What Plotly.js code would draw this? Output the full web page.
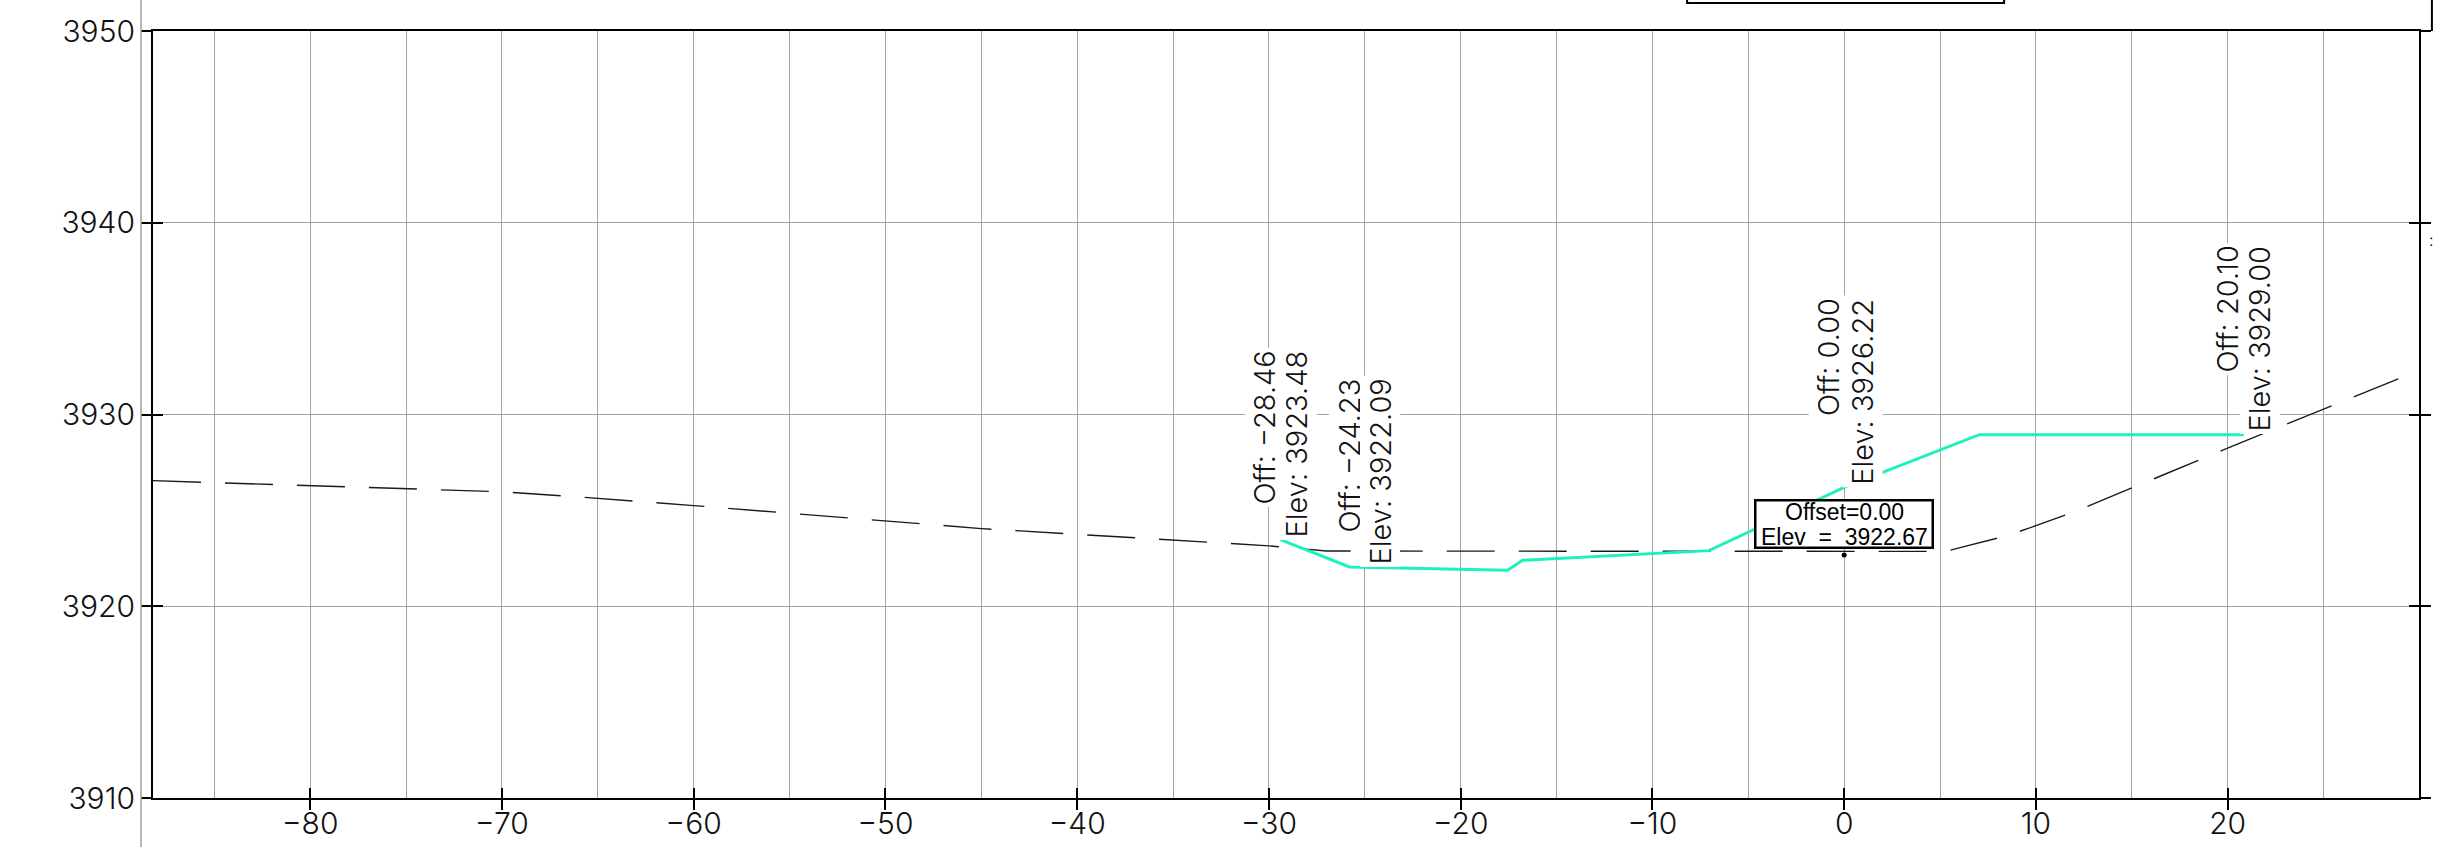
<!DOCTYPE html>
<html>
<head>
<meta charset="utf-8">
<script src="https://cdn.plot.ly/plotly-3.0.1.min.js"></script>
<style>html,body{margin:0;padding:0;background:#fff;}#chart{width:2438px;height:847px;}</style>
</head>
<body>
<div id="chart"></div>
<script>
// Existing ground (dashed)
const groundX = [-88.2, -75, -70, -66, -60, -45, -35, -30, -27, 5.3, 6.2, 8.5, 10, 12, 20, 29.98];
const groundY = [3926.55, 3926.12, 3925.97, 3925.7, 3925.25, 3924.05, 3923.43, 3923.15, 3922.88, 3922.86, 3923.1, 3923.68, 3924.2, 3924.92, 3928.25, 3932.3];

// Design section (cyan)
const designX = [-29.4, -25.8, -17.55, -16.77, -7.05, 0, 7.05, 20.85];
const designY = [3923.48, 3922.05, 3921.88, 3922.4, 3922.9, 3926.2, 3928.95, 3928.95];

// Point labels
const labelIndex = [0, 1, 5, 7];
const labelOff = ['Off: \u221228.46', 'Off: \u221224.23', 'Off: 0.00', 'Off: 20.10'];
const labelElev = ['Elev: 3923.48', 'Elev: 3922.09', 'Elev: 3926.22', 'Elev: 3929.00'];

// Centerline marker
const markerX = [0];
const markerY = [3922.67];
const markerLines = ['Offset=0.00', 'Elev  =  3922.67'];

// Axes
const xRange = [-88.2, 29.98];
const yRange = [3910, 3950];
const xTickVals = [-80, -70, -60, -50, -40, -30, -20, -10, 0, 10, 20];
const xTickText = ['\u221280', '\u221270', '\u221260', '\u221250', '\u221240', '\u221230', '\u221220', '\u221210', '0', '10', '20'];
const xMinorVals = [-85, -75, -65, -55, -45, -35, -25, -15, -5, 5, 15, 25];
const yTickVals = [3910, 3920, 3930, 3940, 3950];
const yTickText = ['3910', '3920', '3930', '3940', '3950'];

const FONT = 'Inter, "DejaVu Sans", sans-serif';
const BOXFONT = '"Liberation Sans", Arial, sans-serif';
const GRID = '#a4a4a4';

const traces = [
  {x: groundX, y: groundY, type: 'scatter', mode: 'lines',
   line: {color: '#1a1a1a', width: 1.4, dash: '48px,24px'}, hoverinfo: 'skip'},
  {x: designX, y: designY, type: 'scatter', mode: 'lines',
   line: {color: '#1ef0be', width: 3}, hoverinfo: 'skip'},
  {x: markerX, y: markerY, type: 'scatter', mode: 'markers',
   marker: {color: '#000', size: 5}, hoverinfo: 'skip'},
  {x: [null], y: [null], xaxis: 'x2', yaxis: 'y', type: 'scatter', mode: 'lines', hoverinfo: 'skip'},
  {x: [null], y: [null], xaxis: 'x', yaxis: 'y2', type: 'scatter', mode: 'lines', hoverinfo: 'skip'}
];

const offShift = [-15.5, 0, -15.6, -16.5];
const elevShift = [16, 31, 18.3, 16];
const annotations = [];
labelIndex.forEach((idx, k) => {
  [[labelOff[k], offShift[k]], [labelElev[k], elevShift[k]]].forEach(([t, dx]) => {
    annotations.push({
      x: designX[idx], y: designY[idx], xref: 'x', yref: 'y',
      text: t, showarrow: false, textangle: -90,
      xanchor: 'center', yanchor: 'top', xshift: dx, yshift: 192,
      bgcolor: '#ffffff', borderpad: 2,
      font: {family: FONT, size: 29, color: '#111', weight: 300}
    });
  });
});
// boxed centerline label: frame, then two lines of text
annotations.push({
  x: markerX[0], y: markerY[0], xref: 'x', yref: 'y',
  text: '&nbsp;', showarrow: false,
  xanchor: 'center', yanchor: 'bottom', yshift: 6,
  width: 175, height: 45,
  bgcolor: '#ffffff', bordercolor: '#000', borderwidth: 2.5, borderpad: 0,
  font: {family: BOXFONT, size: 10, color: '#000'}
});
[[markerLines[0], 43], [markerLines[1], 18]].forEach(([t, dy]) => {
  annotations.push({
    x: markerX[0], y: markerY[0], xref: 'x', yref: 'y',
    text: t, showarrow: false,
    xanchor: 'center', yanchor: 'middle', yshift: dy, xshift: 0,
    font: {family: BOXFONT, size: 23, color: '#000'}
  });
});
annotations.push({
  x: 1.0057, y: 3939.1, xref: 'paper', yref: 'y', text: ':', showarrow: false,
  xanchor: 'center', yanchor: 'middle', font: {family: FONT, size: 16, color: '#000'}
});

const layout = {
  width: 2438, height: 847,
  margin: {l: 153, r: 19, t: 31, b: 49, pad: 0},
  paper_bgcolor: '#ffffff', plot_bgcolor: '#ffffff',
  showlegend: false,
  font: {family: FONT, color: '#111', weight: 300},
  xaxis: {
    range: xRange, tickmode: 'array', tickvals: xTickVals, ticktext: xTickText,
    ticks: 'outside', ticklen: 10, tickwidth: 2, tickcolor: '#000',
    ticklabelstandoff: -12,
    showline: true, linewidth: 2, linecolor: '#000', mirror: true,
    showgrid: true, gridcolor: GRID, gridwidth: 1, zeroline: false,
    minor: {tickmode: 'array', tickvals: xMinorVals, showgrid: true, gridcolor: GRID, gridwidth: 1, ticks: ''},
    tickfont: {family: FONT, size: 30, color: '#111', weight: 300},
    fixedrange: true
  },
  xaxis2: {
    range: xRange, overlaying: 'x', anchor: 'y', side: 'bottom',
    tickmode: 'array', tickvals: xTickVals, ticks: 'inside', ticklen: 10, tickwidth: 2, tickcolor: '#000',
    showticklabels: false, showline: false, showgrid: false, zeroline: false, fixedrange: true
  },
  yaxis: {
    range: yRange, tickmode: 'array', tickvals: yTickVals, ticktext: yTickText,
    ticks: 'outside', ticklen: 10, tickwidth: 2, tickcolor: '#000',
    showline: true, linewidth: 2, linecolor: '#000', mirror: 'ticks',
    showgrid: true, gridcolor: GRID, gridwidth: 1, zeroline: false,
    tickfont: {family: FONT, size: 30, color: '#111', weight: 300},
    fixedrange: true
  },
  yaxis2: {
    range: yRange, overlaying: 'y', anchor: 'x', side: 'left',
    tickmode: 'array', tickvals: yTickVals, ticks: 'inside', ticklen: 10, tickwidth: 2, tickcolor: '#000',
    mirror: 'ticks', showticklabels: false, showline: false, showgrid: false, zeroline: false, fixedrange: true
  },
  shapes: [
    {type: 'line', xref: 'paper', yref: 'paper', x0: -0.0053, x1: -0.0053, y0: -0.07, y1: 1.05,
     line: {color: '#a0a0a0', width: 1.5}},
    {type: 'rect', xref: 'paper', yref: 'paper', x0: 0.677, x1: 0.8169, y0: 1.0365, y1: 1.08,
     line: {color: '#000', width: 2}, fillcolor: 'rgba(0,0,0,0)'},
    {type: 'line', xref: 'paper', yref: 'paper', x0: 1.0057, x1: 1.0057, y0: 1.0, y1: 1.05,
     line: {color: '#000', width: 2}}
  ],
  annotations: annotations
};

Plotly.newPlot('chart', traces, layout, {staticPlot: true, displayModeBar: false});
</script>
</body>
</html>
